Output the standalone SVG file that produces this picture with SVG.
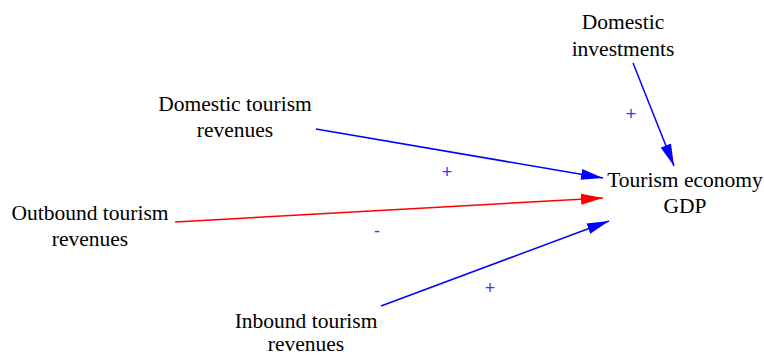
<svg xmlns="http://www.w3.org/2000/svg" width="764" height="356" viewBox="0 0 764 356">
<style>
.node text{font-family:"Liberation Serif","Times New Roman",serif;font-size:21.5px;fill:#000;text-anchor:middle}
.lbl{font-family:"Liberation Sans",Arial,sans-serif;font-size:18px;fill:#3838ff;text-anchor:middle}
.pos{stroke:#0000ff;stroke-width:1.5;fill:none}
.neg{stroke:#ff0000;stroke-width:1.5;fill:none}
</style>
<defs>
<marker id="ab" markerUnits="userSpaceOnUse" markerWidth="24" markerHeight="12" refX="22" refY="6" orient="auto"><path d="M0,0.5 L22,6 L0,11.5 z" fill="#0000ff"/></marker>
<marker id="ar" markerUnits="userSpaceOnUse" markerWidth="24" markerHeight="12" refX="22" refY="6" orient="auto"><path d="M0,0.5 L22,6 L0,11.5 z" fill="#ff0000"/></marker>
</defs>
<rect width="764" height="356" fill="#fff"/>
<g id="connectors">
<line class="pos" x1="633" y1="63" x2="674" y2="166" marker-end="url(#ab)"/>
<line class="pos" x1="316" y1="129" x2="603" y2="178" marker-end="url(#ab)"/>
<line class="neg" x1="175" y1="222" x2="603" y2="198" marker-end="url(#ar)"/>
<line class="pos" x1="381" y1="306" x2="609" y2="221" marker-end="url(#ab)"/>
<text class="lbl" x="631" y="120">+</text>
<text class="lbl" x="447" y="178">+</text>
<text class="lbl" x="377" y="237">-</text>
<text class="lbl" x="490" y="294">+</text>
</g>
<g id="domestic-investments" class="node"><text x="623" y="29">Domestic</text><text x="623" y="56">investments</text></g>
<g id="domestic-tourism" class="node"><text x="235" y="111">Domestic tourism</text><text x="235" y="137">revenues</text></g>
<g id="outbound-tourism" class="node"><text x="90" y="220">Outbound tourism</text><text x="90" y="246">revenues</text></g>
<g id="tourism-gdp" class="node"><text x="685" y="187">Tourism economy</text><text x="685" y="213">GDP</text></g>
<g id="inbound-tourism" class="node"><text x="306" y="328">Inbound tourism</text><text x="306" y="351">revenues</text></g>
</svg>
